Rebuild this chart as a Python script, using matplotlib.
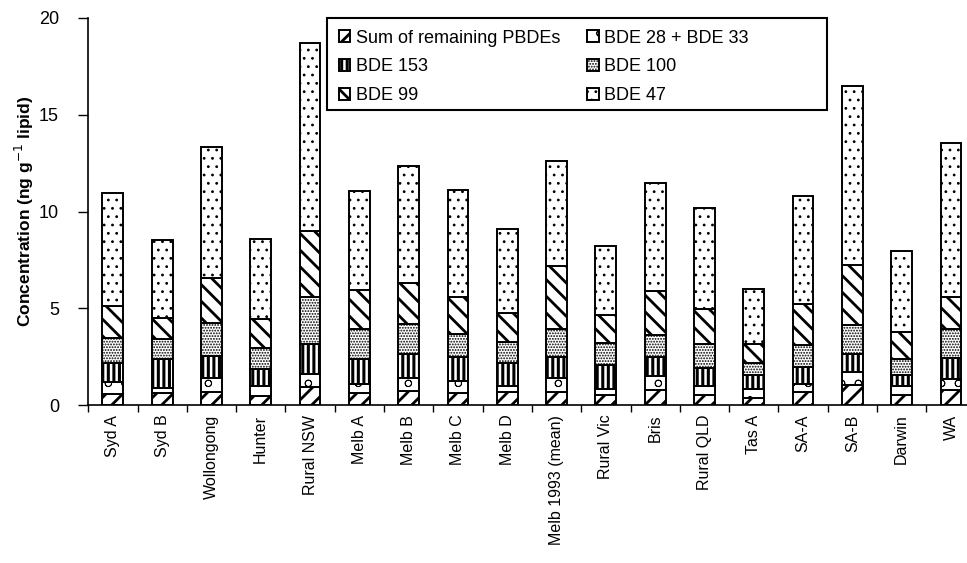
import numpy as np
import matplotlib
matplotlib.use('Agg')
import matplotlib.pyplot as plt
from matplotlib.patches import Rectangle

plt.rcParams['font.family'] = ['Liberation Sans', 'DejaVu Sans']

# ---------------------- data (ng/g lipid) ----------------------
sites = ['Syd A', 'Syd B', 'Wollongong', 'Hunter', 'Rural NSW', 'Melb A', 'Melb B',
         'Melb C', 'Melb D', 'Melb 1993 (mean)', 'Rural Vic', 'Bris', 'Rural QLD',
         'Tas A', 'SA-A', 'SA-B', 'Darwin', 'WA']

remaining = [0.57, 0.60, 0.65, 0.46, 0.93, 0.60, 0.74, 0.60, 0.65, 0.69, 0.52, 0.77, 0.52, 0.34, 0.65, 1.03, 0.52, 0.77]
bde28_33  = [0.60, 0.29, 0.74, 0.52, 0.65, 0.47, 0.67, 0.64, 0.35, 0.72, 0.29, 0.72, 0.46, 0.48, 0.42, 0.66, 0.48, 0.55]
bde153    = [0.98, 1.48, 1.15, 0.89, 1.58, 1.30, 1.25, 1.22, 1.15, 1.05, 1.25, 0.97, 0.91, 0.73, 0.90, 0.97, 0.53, 1.09]
bde100    = [1.32, 1.03, 1.72, 1.08, 2.41, 1.55, 1.52, 1.23, 1.08, 1.46, 1.12, 1.18, 1.24, 0.63, 1.12, 1.50, 0.86, 1.51]
bde99     = [1.65, 1.12, 2.32, 1.48, 3.42, 2.01, 2.14, 1.89, 1.55, 3.28, 1.46, 2.25, 1.82, 0.98, 2.15, 3.06, 1.39, 1.65]
bde47     = [5.84, 4.02, 6.73, 4.14, 9.71, 5.15, 6.05, 5.55, 4.29, 5.39, 3.57, 5.60, 5.25, 2.84, 5.57, 9.28, 4.17, 7.97]

# name, values, hatch, hatch linewidth
series = [
    ('Sum of remaining PBDEs', remaining, '//', 2.0),
    ('BDE 28 + BDE 33', bde28_33, 'o', 0.6),
    ('BDE 153', bde153, '|||', 2.2),
    ('BDE 100', bde100, '......', 0.9),
    ('BDE 99', bde99, '\\\\', 2.0),
    ('BDE 47', bde47, '..', 0.8),
]
# --------------------------------------------------------------

W, H = 967, 563
fig = plt.figure(figsize=(W / 100, H / 100), dpi=100)
ax = fig.add_axes([88.2 / W, (H - 405) / H, 887.4 / W, 387 / H])

x = np.arange(len(sites))
bottom = np.zeros(len(sites))
handles = {}
for name, vals, hatch, hlw in series:
    with plt.rc_context({'hatch.linewidth': hlw}):
        bars = ax.bar(x, vals, 0.42, bottom=bottom, color='white', edgecolor='black',
                      linewidth=1.4, hatch=hatch, label=name)
    for p in bars:
        if hasattr(p, 'set_hatch_linewidth'):
            p.set_hatch_linewidth(hlw)
    handles[name] = (bars, hlw)
    bottom += np.array(vals)

ax.set_xlim(-0.5, len(sites) - 0.5)
ax.set_ylim(0, 20)
ax.set_yticks([0, 5, 10, 15, 20])
ax.tick_params(axis='y', direction='out', length=7, width=1, labelsize=13, pad=14)
ax.set_xticks(x)
ax.set_xticklabels(sites, rotation=90, fontsize=11.5)
ax.tick_params(axis='x', length=0, pad=7)
ax.set_xticks(np.arange(len(sites) + 1) - 0.5, minor=True)
ax.tick_params(axis='x', which='minor', direction='out', length=5, width=1)

for s in ['top', 'right']:
    ax.spines[s].set_visible(False)
for s in ['left', 'bottom']:
    ax.spines[s].set_linewidth(1.2)

ax.set_ylabel('Concentration (ng g$^{-1}$ lipid)', fontsize=12.5, fontweight='bold', labelpad=2)

# legend: two columns inside a plain box
order = ['Sum of remaining PBDEs', 'BDE 153', 'BDE 99', 'BDE 28 + BDE 33', 'BDE 100', 'BDE 47']
leg = ax.legend([handles[k][0] for k in order], order, ncol=2, loc='upper left',
                bbox_to_anchor=(327 / W, 1 - 18 / H), bbox_transform=fig.transFigure,
                fontsize=13, frameon=False,
                handlelength=0.65, handleheight=0.65, handletextpad=0.3,
                labelspacing=0.65, columnspacing=1.5, borderpad=0.65, borderaxespad=0)
for h, k in zip(leg.legend_handles, order):
    if hasattr(h, 'set_hatch_linewidth'):
        h.set_hatch_linewidth(handles[k][1])
fig.patches.append(Rectangle((327 / W, 1 - 110 / H), 500 / W, 92 / H,
                             transform=fig.transFigure, fill=False,
                             edgecolor='black', linewidth=1.5))

fig.savefig('out.png', dpi=100)
